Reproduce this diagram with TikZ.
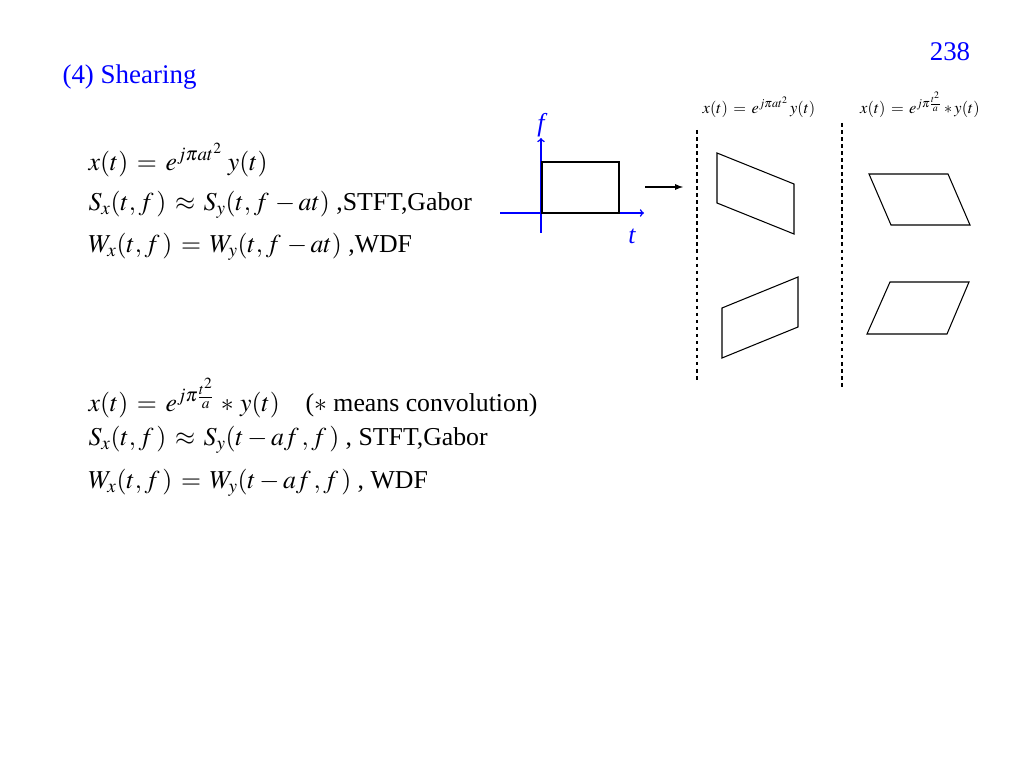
\documentclass[tikz,border=0pt]{standalone}
\usepackage{mathptmx}
\usepackage{fontspec}
\setmainfont{Liberation Serif}
\begin{document}
\begin{tikzpicture}[x=0.03cm,y=-0.03cm,line width=0.9pt,
  formula/.style={anchor=west,inner sep=0pt,font=\fontsize{22}{26}\selectfont},
  head/.style={anchor=south,inner sep=0pt,font=\fontsize{14}{16}\selectfont},
  tfaxis/.style={draw=blue,line width=1.3pt,->}]
  \useasboundingbox (0,0) rectangle (1024,768);
  % title and page number
  \node[blue,anchor=west,inner sep=0pt,font=\fontsize{23}{26}\selectfont] (title) at (62,77) {(4) Shearing};
  \node[blue,inner sep=0pt,font=\fontsize{23}{26}\selectfont] (page) at (950,52) {238};

  % formulas, chirp multiplication
  \node[formula] (m1) at (88,160) {$x(t)\,=\,e^{j\pi at^2}\;y(t)$};
  \node[formula] (m2) at (88,205) {$S_x(t,f\,)\,\approx\,S_y(t,f\,-at)$ ,STFT,Gabor};
  \node[formula] (m3) at (88,247) {$W_x(t,f\,)\,=\,W_y(t,f\,-at)$ ,WDF};
  % formulas, chirp convolution
  \node[formula] (c1) at (88,398) {$x(t)\,=\,e^{j\pi\frac{t^2}{a}}\,*\,y(t)$\quad($*$ means convolution)};
  \node[formula] (c2) at (88,440) {$S_x(t,f\,)\,\approx\,S_y(t-af\,,f\,)$ , STFT,Gabor};
  \node[formula] (c3) at (88,483) {$W_x(t,f\,)\,=\,W_y(t-af\,,f\,)$ , WDF};

  % t-f plane
  \draw[tfaxis] (500,213) -- (644,213) coordinate (tend);
  \draw[tfaxis] (541,233) -- (541,138) coordinate (fend);
  \node[blue,font=\fontsize{22}{26}\selectfont\itshape] (f) at (541,125) {f};
  \node[blue,font=\fontsize{22}{26}\selectfont\itshape] (t) at (632,236) {t};
  \draw (542,213) rectangle (619,162);
  \draw[-latex,line width=1.3pt] (645,187) -- (683,187);

  % columns
  \draw[dashed] (697,130) -- (697,383);
  \draw[dashed] (842,123) -- (842,388);
  \node[head] (h1) at (759,118) {$x(t)\,=\,e^{j\pi at^2}\,y(t)$};
  \node[head] (h2) at (920,118) {$x(t)\,=\,e^{j\pi\frac{t^2}{a}}*y(t)$};

  % sheared regions
  \draw (717,153) -- (794,184) -- (794,234) -- (717,203) -- cycle;
  \draw (869,174) -- (948,174) -- (970,225) -- (891,225) -- cycle;
  \draw (722,308) -- (798,277) -- (798,327) -- (722,358) -- cycle;
  \draw (890,282) -- (969,282) -- (947,334) -- (867,334) -- cycle;
\end{tikzpicture}
\end{document}
